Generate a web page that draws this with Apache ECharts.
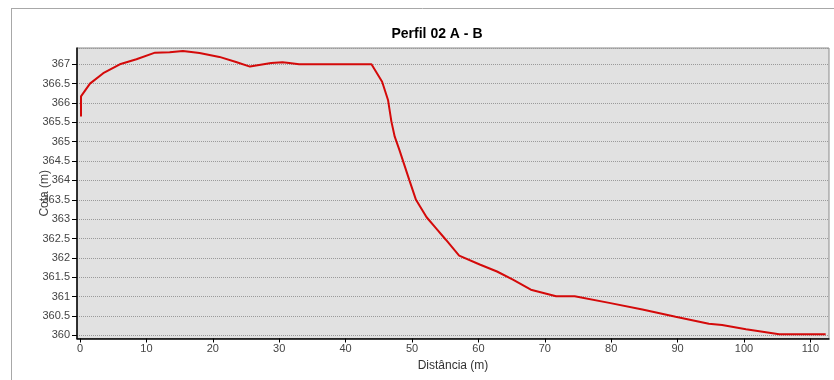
<!DOCTYPE html>
<html>
<head>
<meta charset="utf-8">
<script src="https://cdn.jsdelivr.net/npm/echarts@6/dist/echarts.min.js"></script>
<style>
html,body{margin:0;padding:0;background:#fff;}
#chart{width:834px;height:380px;}
</style>
</head>
<body>
<div id="chart"></div>
<script>
const titleText = 'Perfil 02 A - B';
const xAxisName = 'Distância (m)';
const yAxisName = 'Cota (m)';
const distances = [0.15, 0.15, 1.5, 3.5, 6, 8.5, 11.3, 13.5, 15.5, 18, 21, 23.5, 25.6, 28.8, 30.5, 31.5, 33, 43.9, 45.5, 46.4, 46.9, 47.4, 48.1, 49.6, 50.6, 52.2, 53.6, 55.1, 57.1, 60.2, 62.8, 65.2, 67.9, 71.7, 74.5, 79.7, 84.7, 89.7, 94.7, 96.7, 100.3, 105.3, 112.3];
const elevations = [365.65, 366.17, 366.5, 366.77, 367.0, 367.13, 367.3, 367.31, 367.34, 367.29, 367.19, 367.06, 366.94, 367.03, 367.05, 367.03, 367.0, 367.0, 366.55, 366.07, 365.52, 365.13, 364.79, 364.01, 363.5, 363.05, 362.77, 362.47, 362.06, 361.83, 361.65, 361.44, 361.18, 361.01, 361.01, 360.84, 360.67, 360.48, 360.3, 360.27, 360.16, 360.03, 360.03];

const seriesData = distances.map((d, i) => [d, elevations[i]]);

const chart = echarts.init(document.getElementById('chart'), null, {renderer: 'canvas'});
chart.setOption({
  backgroundColor: '#ffffff',
  animation: false,
  title: {
    text: titleText,
    left: 432, top: 22,
    textAlign: 'center',
    textStyle: {fontFamily: 'Liberation Sans', fontSize: 14, fontWeight: 'bold', color: '#000'}
  },
  graphic: [
    {type: 'line', shape: {x1: 11, y1: 8.5, x2: 834, y2: 8.5}, style: {stroke: '#a8a8a8', lineWidth: 1}, silent: true},
    {type: 'line', shape: {x1: 11.5, y1: 8, x2: 11.5, y2: 380}, style: {stroke: '#a8a8a8', lineWidth: 1}, silent: true}
  ],
  grid: {
    left: 77, top: 48, right: 5, bottom: 41.5,
    show: true, backgroundColor: '#e1e1e1', borderColor: '#8a8a8a', borderWidth: 1
  },
  xAxis: {
    type: 'value', min: -0.45, max: 112.8,
    splitNumber: 11, minInterval: 10, maxInterval: 10,
    name: xAxisName, nameLocation: 'middle', nameGap: 21, nameMoveOverlap: false,
    nameTextStyle: {fontFamily: 'Liberation Sans', fontSize: 12, color: '#333'},
    axisLine: {show: true, onZero: false, lineStyle: {color: '#000', width: 1.5}},
    axisTick: {show: true, length: 4, lineStyle: {color: '#000'}},
    axisLabel: {fontFamily: 'Liberation Sans', fontSize: 11, color: '#444', margin: 5, showMinLabel: false, showMaxLabel: false},
    splitLine: {show: false}
  },
  yAxis: {
    type: 'value', min: 359.92, max: 367.42,
    splitNumber: 15, minInterval: 0.5, maxInterval: 0.5,
    name: yAxisName, nameLocation: 'middle', nameGap: 26, nameRotate: 90, nameMoveOverlap: false,
    nameTextStyle: {fontFamily: 'Liberation Sans', fontSize: 12, color: '#444'},
    axisLine: {show: true, onZero: false, lineStyle: {color: '#000', width: 1.5}},
    axisTick: {show: true, length: 5, lineStyle: {color: '#000'}},
    axisLabel: {fontFamily: 'Liberation Sans', fontSize: 11, color: '#444', margin: 7, showMinLabel: false, showMaxLabel: false},
    splitLine: {show: true, lineStyle: {color: '#9a9a9a', type: [1, 1], width: 1}}
  },
  series: [{
    type: 'line',
    data: seriesData,
    showSymbol: false,
    symbol: 'none',
    lineStyle: {color: '#d40a0a', width: 2},
    clip: true
  }]
});
</script>
</body>
</html>
